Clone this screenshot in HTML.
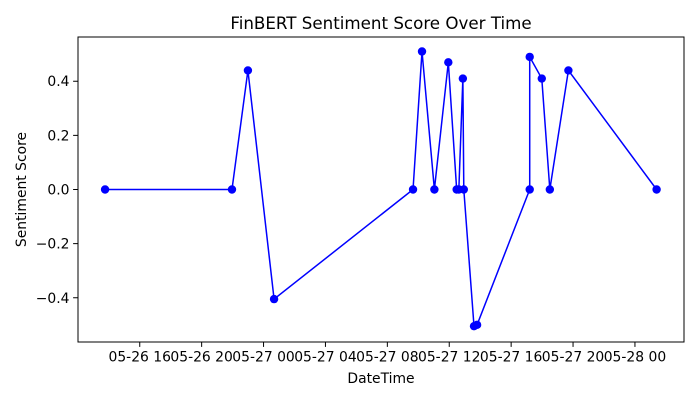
<!DOCTYPE html>
<html><head><meta charset="utf-8"><style>
body{margin:0;background:#fff}
svg text{font-family:"DejaVu Sans","Liberation Sans",sans-serif;fill:#000}
</style></head><body>
<svg id="chart" width="700" height="400" viewBox="0 0 700 400"></svg>
<script>
// hours since 05-26 16:00
const hoursSinceStart=[-2.24,5.96,6.99,8.68,17.66,18.24,19.04,19.94,20.48,20.62,20.88,20.94,21.6,21.8,25.2,25.2,25.98,26.5,27.7,33.4];
const sentimentScores=[0,0,0.44,-0.405,0,0.51,0,0.47,0,0,0.41,0,-0.505,-0.5,0,0.49,0.41,0,0.44,0];
const yTicks=[-0.4,-0.2,0.0,0.2,0.4];
const yTickLabels=["−0.4","−0.2","0.0","0.2","0.4"];
const xTickHours=[0,4,8,12,16,20,24,28,32];
const xTickLabels=["05-26 16","05-26 20","05-27 00","05-27 04","05-27 08","05-27 12","05-27 16","05-27 20","05-28 00"];

const L=78,R=684,T=37,B=342;
const xMin=-3.99,xMax=35.17,yMin=-0.5635,yMax=0.5635;
const xs=h=>L+(h-xMin)/(xMax-xMin)*(R-L);
const ys=v=>B-(v-yMin)/(yMax-yMin)*(B-T);
const svg=document.getElementById('chart');
const NS='http://www.w3.org/2000/svg';
function mk(tag,attrs,parent){const e=document.createElementNS(NS,tag);for(const k in attrs)e.setAttribute(k,attrs[k]);(parent||svg).appendChild(e);return e;}

const title=mk('text',{x:(L+R)/2,y:29,'text-anchor':'middle','font-size':16.7});
title.textContent='FinBERT Sentiment Score Over Time';



const frame=mk('rect',{x:L,y:T,width:R-L,height:B-T,fill:'none',stroke:'#000','stroke-width':1});



yTicks.forEach((v,i)=>{
  const y=ys(v);
  const t=mk('line',{x1:L-4.9,x2:L,y1:y,y2:y,stroke:'#000'});
  
  
  const lb=mk('text',{x:L-8.5,y:y+5,'text-anchor':'end','font-size':13.9});
  lb.textContent=yTickLabels[i];
  
  
});
xTickHours.forEach((h,i)=>{
  const x=xs(h);
  const t=mk('line',{x1:x,x2:x,y1:B,y2:B+4.9,stroke:'#000'});
  
  
  const lb=mk('text',{x:x,y:B+19.5,'text-anchor':'middle','font-size':13.9});
  lb.textContent=xTickLabels[i];
  
  
});
const xt=mk('text',{x:(L+R)/2,y:383,'text-anchor':'middle','font-size':13.9});
xt.textContent='DateTime';


const yt=mk('text',{x:0,y:0,'text-anchor':'middle','font-size':13.9,transform:`translate(26,${(T+B)/2}) rotate(-90)`});
yt.textContent='Sentiment Score';



const pts=hoursSinceStart.map((h,i)=>xs(h)+','+ys(sentimentScores[i])).join(' ');
const line=mk('polyline',{points:pts,fill:'none',stroke:'#0000ff','stroke-width':1.5});


hoursSinceStart.forEach((h,i)=>{
  const c=mk('circle',{cx:xs(h),cy:ys(sentimentScores[i]),r:4.2,fill:'#0000ff'});
  
  
});
</script>
</body></html>
